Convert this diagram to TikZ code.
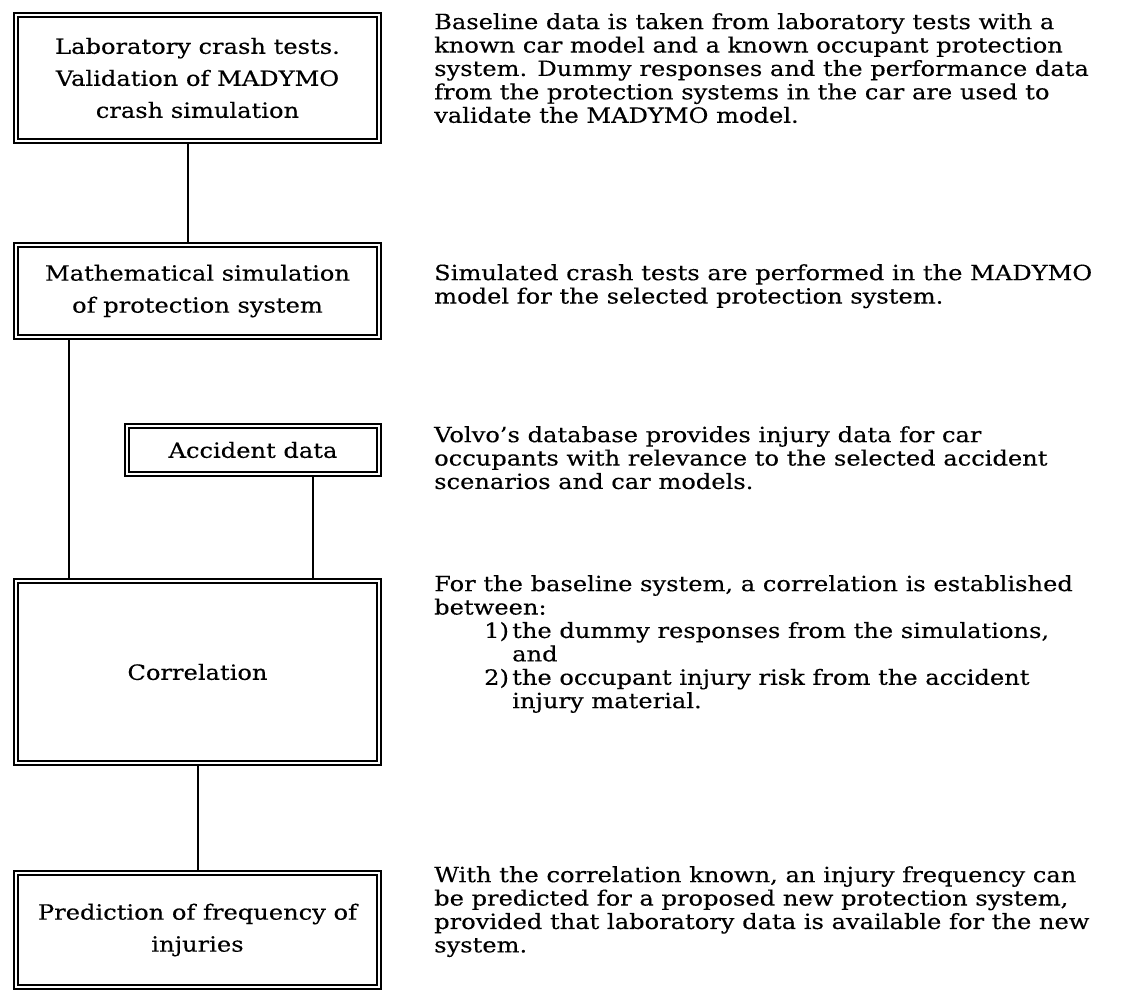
\documentclass[tikz,border=0pt]{standalone}
\usepackage{fontspec}
\setmainfont{DejaVu Serif}[FakeStretch=1.15, FakeBold=0.3]
\begin{document}
\begin{tikzpicture}[x=1pt,y=-1pt,
  box/.style={draw=black, double=white, double distance=2.6pt, line width=1.4pt,
    fill=white, outer sep=2.7pt, inner sep=0pt, align=center,
    font=\fontsize{21}{32}\selectfont},
  conn/.style={draw=black, line width=1.5pt},
  desc/.style={anchor=north west, inner sep=0pt, align=left,
    font=\fontsize{21}{23.4}\selectfont}]
\useasboundingbox[fill=white] (0,0) rectangle (1142,993);

\node[box, minimum width=363pt, minimum height=126pt] (b1) at (197.5,78)
  {Laboratory crash tests.\\Validation of MADYMO\\crash simulation};
\node[box, minimum width=363pt, minimum height=92pt] (b2) at (197.5,291)
  {Mathematical simulation\\of protection system};
\node[box, minimum width=252pt, minimum height=48pt] (acc) at (253,450)
  {Accident data};
\node[box, minimum width=363pt, minimum height=182pt] (corr) at (197.5,672)
  {Correlation};
\node[box, minimum width=363pt, minimum height=114pt] (pred) at (197.5,930)
  {Prediction of frequency of\\injuries};

\draw[conn] ([xshift=-9.5pt]b1.south) -- ([xshift=-9.5pt]b2.north);
\draw[conn] ([xshift=-128.5pt]b2.south) -- ([xshift=-128.5pt]corr.north);
\draw[conn] ([xshift=60pt]acc.south) -- ([xshift=115.5pt]corr.north);
\draw[conn] ([xshift=0.5pt]corr.south) -- ([xshift=0.5pt]pred.north);

\node[desc] (t1) at (434,13)
  {Baseline data is taken from laboratory tests with a\\
   known car model and a known occupant protection\\
   system. Dummy responses and the performance data\\
   from the protection systems in the car are used to\\
   validate the MADYMO model.};
\node[desc] (t2) at (434,264)
  {Simulated crash tests are performed in the MADYMO\\
   model for the selected protection system.};
\node[desc] (t3) at (434,426)
  {Volvo's database provides injury data for car\\
   occupants with relevance to the selected accident\\
   scenarios and car models.};
\node[desc] (t4) at (434,575)
  {For the baseline system, a correlation is established\\
   between:\\
   \hspace*{50pt}\makebox[28pt][l]{1)}the dummy responses from the simulations,\\
   \hspace*{78pt}and\\
   \hspace*{50pt}\makebox[28pt][l]{2)}the occupant injury risk from the accident\\
   \hspace*{78pt}injury material.};
\node[desc] (t5) at (434,866)
  {With the correlation known, an injury frequency can\\
   be predicted for a proposed new protection system,\\
   provided that laboratory data is available for the new\\
   system.};
\end{tikzpicture}
\end{document}
